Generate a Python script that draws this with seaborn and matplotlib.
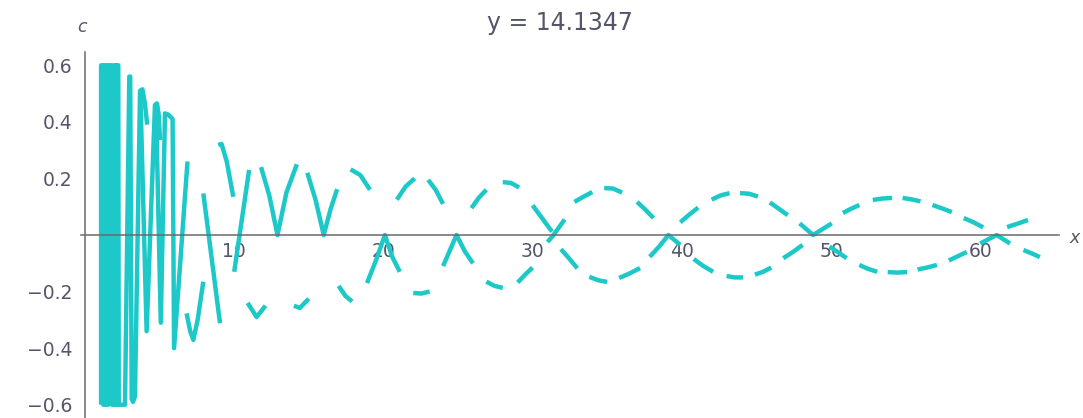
import matplotlib
matplotlib.use("Agg")
import matplotlib.pyplot as plt
import numpy as np
import pandas as pd
import seaborn as sns

# ---- data -------------------------------------------------------------
# c(x) for the dense start of the curve (None separates strokes)
early_x = [1.08, 1.08, 1.2, 1.22, 1.3, 1.32, 1.41, 1.44, 1.56, 1.57, 1.79, 1.8,
           1.95, 1.96, 2.05, 2.06, 2.12, 2.14, 2.23, 2.26,
           2.68, 2.97, 3.03, 3.13, 3.22, 3.35, 3.69, 3.85, 4.0, 4.17, None,
           3.72, 4.13, 4.69, 4.82, 4.93, 5.03, None,
           4.76, 5.08, 5.36, 5.6, 5.87, 5.97, 6.87, None,
           6.81, 7.05, 7.26, 7.55, 7.93, None,
           7.93, 9.05, None,
           8.93, 9.15, 9.5, 9.94, None,
           10.0, 11.0]
early_c = [-0.6, 0.6, 0.6, -0.6, -0.6, 0.6, 0.6, -0.6, -0.6, 0.6, 0.6, -0.6,
           -0.6, 0.6, 0.6, -0.6, -0.6, 0.6, 0.6, -0.6,
           -0.6, 0.56, 0.56, -0.58, -0.59, -0.57, 0.51, 0.515, 0.47, 0.39, None,
           0.48, -0.34, 0.46, 0.465, 0.43, 0.336, None,
           0.45, -0.31, 0.43, 0.425, 0.41, -0.4, 0.26, None,
           -0.277, -0.34, -0.371, -0.3, -0.165, None,
           0.147, -0.312, None,
           0.318, 0.322, 0.26, 0.135, None,
           -0.13, 0.23]

# upper branch pieces
upper_x = [11.8, 12.35, 12.9, 13.5, 14.2, None,
           14.9, 15.45, 16.0, 16.45, 16.9, None,
           17.8, 18.45, 19.1, None,
           20.9, 21.5, 22.1, None,
           23.0, 23.5, 24.0, None,
           25.9, 26.4, 26.9, None,
           28.0, 28.55, 29.1, None,
           30.0, 30.6, 31.3, None,
           31.0, 31.4, 32.15, None,
           32.8, 33.4, 34.0, None,
           34.8, 35.4, 36.0, None,
           37.0, 37.55, 38.1, None,
           39.9, 40.5, 41.1, None,
           42.0, 42.6, 43.2, None,
           43.9, 44.5, 45.1, None,
           45.9, 46.5, 47.1, None,
           47.9, 48.8, 50.05, None,
           50.8, 51.35, 51.9, None,
           52.8, 53.45, 54.1, None,
           54.8, 55.4, 56.0, None,
           56.8, 57.45, 58.1, None,
           58.9, 59.55, 60.2, None,
           61.8, 62.5, 63.2]
upper_c = [0.24, 0.14, 0.0, 0.15, 0.25, None,
           0.22, 0.125, 0.0, 0.09, 0.162, None,
           0.232, 0.212, 0.16, None,
           0.125, 0.172, 0.2, None,
           0.195, 0.16, 0.11, None,
           0.095, 0.132, 0.16, None,
           0.187, 0.184, 0.168, None,
           0.105, 0.062, 0.012, None,
           -0.025, 0.0, 0.055, None,
           0.117, 0.135, 0.152, None,
           0.166, 0.164, 0.15, None,
           0.117, 0.09, 0.06, None,
           0.045, 0.072, 0.097, None,
           0.125, 0.14, 0.148, None,
           0.148, 0.146, 0.136, None,
           0.115, 0.093, 0.07, None,
           0.041, 0.0, 0.041, None,
           0.078, 0.093, 0.106, None,
           0.124, 0.129, 0.131, None,
           0.131, 0.126, 0.119, None,
           0.106, 0.094, 0.081, None,
           0.06, 0.045, 0.027, None,
           0.028, 0.04, 0.053]

# lower branch pieces
lower_x = [10.9, 11.5, 12.1, None,
           14.0, 14.4, 15.0, None,
           17.0, 17.45, 17.9, None,
           18.9, 19.5, 20.1, 20.6, 21.1, None,
           22.0, 22.55, 23.1, None,
           24.0, 24.45, 24.9, 25.45, 26.0, None,
           26.9, 27.45, 28.0, None,
           29.0, 29.5, 30.0, None,
           31.9, 32.45, 33.0, None,
           33.8, 34.4, 35.0, None,
           35.8, 36.5, 37.2, None,
           37.85, 38.5, 39.1, 39.9, None,
           40.8, 41.45, 42.1, None,
           43.0, 43.55, 44.1, None,
           44.9, 45.45, 46.0, None,
           46.8, 47.45, 48.1, None,
           49.9, 50.5, 51.05, None,
           51.9, 52.5, 53.1, None,
           53.8, 54.45, 55.1, None,
           55.8, 56.45, 57.1, None,
           57.9, 58.5, 59.1, None,
           60.0, 61.1, 62.0, None,
           62.9, 63.45, 64.0]
lower_c = [-0.24, -0.29, -0.25, None,
           -0.25, -0.258, -0.225, None,
           -0.18, -0.215, -0.235, None,
           -0.17, -0.09, 0.0, -0.078, -0.13, None,
           -0.205, -0.207, -0.2, None,
           -0.11, -0.055, 0.0, -0.057, -0.1, None,
           -0.165, -0.18, -0.187, None,
           -0.168, -0.14, -0.115, None,
           -0.05, -0.083, -0.118, None,
           -0.148, -0.16, -0.166, None,
           -0.152, -0.136, -0.117, None,
           -0.077, -0.04, 0.0, -0.035, None,
           -0.085, -0.11, -0.13, None,
           -0.145, -0.15, -0.15, None,
           -0.14, -0.13, -0.115, None,
           -0.082, -0.06, -0.035, None,
           -0.041, -0.062, -0.082, None,
           -0.106, -0.12, -0.13, None,
           -0.131, -0.133, -0.131, None,
           -0.122, -0.115, -0.106, None,
           -0.09, -0.075, -0.06, None,
           -0.03, 0.0, -0.03, None,
           -0.053, -0.065, -0.078]

x_ticks = [10, 20, 30, 40, 50, 60]
y_ticks = [-0.6, -0.4, -0.2, 0.2, 0.4, 0.6]
y_tick_labels = ["\u22120.6", "\u22120.4", "\u22120.2", "0.2", "0.4", "0.6"]
title_text = "y = 14.1347"


def to_rows(xs, cs, name):
    """Split None-separated strokes into rows tagged with a stroke id."""
    rows, seg, order = [], 0, 0
    for x, c in zip(xs, cs):
        if x is None:
            seg += 1
            continue
        rows.append({"stroke": f"{name}{seg}", "order": order, "x": x, "c": c})
        order += 1
    return rows


df = pd.DataFrame(to_rows(early_x, early_c, "e")
                  + to_rows(upper_x, upper_c, "u")
                  + to_rows(lower_x, lower_c, "l"))

# ---- styling ----------------------------------------------------------
sns.set_style("white")
plt.rcParams["font.family"] = ["DejaVu Sans"]

LINE = "#1cc8c8"
AXIS = "#6a6a6a"
TEXT = "#55556a"

W, H = 1083, 418
fig = plt.figure(figsize=(W / 100, H / 100), dpi=100)
x0, x1 = -0.26, 65.26
y0, y1 = -0.647, 0.647
px_per_x = 14.92
left_px = 85.0 + x0 * px_per_x
ax = fig.add_axes([left_px / W, 0.0, (x1 - x0) * px_per_x / W, 366 / H])

sns.lineplot(data=df, x="x", y="c", units="stroke", estimator=None, sort=False,
             color=LINE, linewidth=3.2, ax=ax, legend=False,
             solid_joinstyle="round", solid_capstyle="butt")

ax.set_xlim(x0, x1)
ax.set_ylim(y0, y1)
ax.set_xlabel("")
ax.set_ylabel("")

for side in ("top", "right"):
    ax.spines[side].set_visible(False)
for side in ("left", "bottom"):
    ax.spines[side].set_position(("data", 0))
    ax.spines[side].set_color(AXIS)
    ax.spines[side].set_linewidth(1.1)

ax.set_xticks(x_ticks)
ax.set_xticklabels([str(t) for t in x_ticks])
ax.set_yticks(y_ticks)
ax.set_yticklabels(y_tick_labels)
ax.xaxis.set_minor_locator(matplotlib.ticker.MultipleLocator(2))
ax.yaxis.set_minor_locator(matplotlib.ticker.MultipleLocator(0.05))
ax.tick_params(axis="both", which="major", direction="in", length=5,
               width=1.0, color=AXIS, labelcolor=TEXT, labelsize=13.5)
ax.tick_params(axis="both", which="minor", direction="in", length=3,
               width=0.9, color=AXIS)
ax.tick_params(axis="x", which="major", pad=5)
ax.tick_params(axis="y", which="major", pad=9)

fig.text(560 / W, 1 - 23 / H, title_text, ha="center", va="center",
         fontsize=17, color=TEXT)
fig.text(82 / W, 1 - 27 / H, "c", ha="center", va="center",
         fontsize=12.5, style="italic", color=TEXT)
fig.text(1069 / W, 1 - 238 / H, "x", ha="left", va="center",
         fontsize=12.5, style="italic", color=TEXT)

fig.savefig("out.png", dpi=100)
